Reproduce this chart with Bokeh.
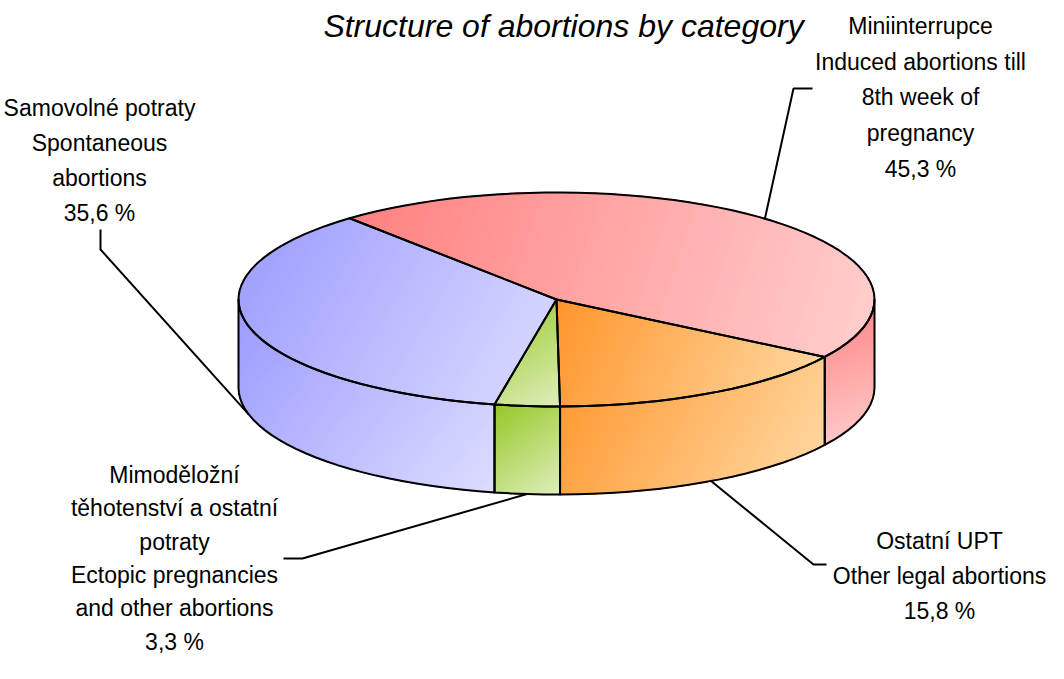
import math
from bokeh.plotting import figure
from bokeh.models import Range1d
from bokeh.core.properties import value
from bokeh.embed import file_html
from bokeh.resources import INLINE

# ---------------- data ----------------
title = "Structure of abortions by category"
categories = ["Miniinterrupce", "Ostatní UPT", "Mimoděložní", "Samovolné potraty"]
shares = [45.3, 15.8, 3.3, 35.6]
label_lines = [
    ["Miniinterrupce", "Induced abortions till", "8th week of", "pregnancy"],
    ["Ostatní UPT", "Other legal abortions"],
    ["Mimoděložní", "těhotenství a ostatní", "potraty", "Ectopic pregnancies", "and other abortions"],
    ["Samovolné potraty", "Spontaneous", "abortions"],
]

# ---------------- style / layout (screen-pixel coordinates) ----------------
dark_cols = [(255, 128, 128), (255, 150, 45), (150, 200, 40), (155, 155, 255)]
light_cols = [(255, 206, 206), (255, 218, 165), (222, 238, 186), (220, 220, 255)]
CX, CY, RX, RY, DEPTH = 564.0, 307.0, 318.0, 107.0, 88.0
START = 130.6
label_anchor = [(928, 25), (947, 540), (182, 474), (107, 107)]
label_sp = [35.8, 35.3, 33.4, 35.2]
leader_elbow = [((801, 96), (820, 96)), ((821, 572), (834, 572)),
                ((310, 566), (291, 566)), ((108, 257), (108, 237))]
FONT = "Liberation Sans"
FS = 23

p = figure(width=1048, height=663, output_backend="svg", toolbar_location=None,
           x_range=Range1d(8, 1056), y_range=Range1d(671, 8), min_border=0)
p.axis.visible = False
p.grid.visible = False
p.outline_line_color = None
p.background_fill_color = "white"
p.border_fill_color = "white"


def ept(a_deg, dy=0.0):
    a = math.radians(a_deg)
    return CX + RX * math.cos(a), CY - RY * math.sin(a) + dy


def arc(a1, a2, dy=0.0, n=120):
    m = max(2, int(abs(a2 - a1) / 360 * n) + 2)
    return [ept(a1 + (a2 - a1) * i / (m - 1), dy) for i in range(m)]


def clip(poly, nx, ny, c):
    out = []
    L = len(poly)
    for i in range(L):
        P = poly[i]
        Q = poly[(i + 1) % L]
        fp = nx * P[0] + ny * P[1] - c
        fq = nx * Q[0] + ny * Q[1] - c
        if fp >= 0:
            out.append(P)
        if (fp >= 0) != (fq >= 0):
            t = fp / (fp - fq)
            out.append((P[0] + (Q[0] - P[0]) * t, P[1] + (Q[1] - P[1]) * t))
    return out


def hexc(c0, c1, t):
    r = [int(round(c0[k] + (c1[k] - c0[k]) * t)) for k in range(3)]
    return "#%02x%02x%02x" % tuple(r)


fx, fy, fc = [], [], []
ox, oy = [], []


def add_face(poly, ci, nb=48):
    xs = [q[0] for q in poly]
    ys = [q[1] for q in poly]
    x0, x1, y0, y1 = min(xs), max(xs), min(ys), max(ys)
    W, H = max(x1 - x0, 1.0), max(y1 - y0, 1.0)
    D = W * W + H * H
    fx.append(xs); fy.append(ys); fc.append(hexc(dark_cols[ci], light_cols[ci], 0))
    for k in range(1, nb):
        a = k / nb
        c = a * D + W * x0 + H * y0
        cp = clip(poly, W, H, c)
        if len(cp) >= 3:
            fx.append([q[0] for q in cp]); fy.append([q[1] for q in cp])
            fc.append(hexc(dark_cols[ci], light_cols[ci], k / (nb - 1)))
    ox.append(xs); oy.append(ys)


# slice angles (clockwise from START)
tot = sum(shares)
bounds = []
a = START
for v in shares:
    b = a - v / tot * 360.0
    bounds.append((a, b))
    a = b

# side faces (front half: angles between -180 and 0)
for i, (a1, a2) in enumerate(bounds):
    for off in (0.0, -360.0, 360.0):
        s1, s2 = a1 + off, a2 + off
        hi, lo = min(s1, 0.0), max(s2, -180.0)
        if hi > lo:
            top = arc(hi, lo)
            bot = arc(lo, hi, DEPTH)
            add_face(top + bot, i)

# top faces
for i, (a1, a2) in enumerate(bounds):
    poly = [(CX, CY)] + arc(a1, a2)
    add_face(poly, i)

p.patches(fx, fy, fill_color=fc, line_color=fc, line_width=0.6)
p.patches(ox, oy, fill_alpha=0, line_color="black", line_width=2, line_join="round")

# leader lines
lx, ly = [], []
for i, (a1, a2) in enumerate(bounds):
    mid = (a1 + a2) / 2
    s = math.sin(math.radians(mid))
    start = ept(mid, DEPTH if s < 0 else 0.0)
    (ex, ey), (tx, ty) = leader_elbow[i]
    lx.append([start[0], ex, tx]); ly.append([start[1], ey, ty])
p.multi_line(lx, ly, line_color="black", line_width=2)

# labels
tx_, ty_, tt_ = [], [], []
for i, lines in enumerate(label_lines):
    pct = ("%.1f %%" % shares[i]).replace(".", ",")
    allines = lines + [pct]
    cx, cy = label_anchor[i]
    for j, t in enumerate(allines):
        tx_.append(cx); ty_.append(cy + j * label_sp[i] + 0.358 * FS); tt_.append(t)
p.text(tx_, ty_, text=tt_, text_font=value(FONT), text_font_size="%dpx" % FS,
       text_align="center", text_baseline="alphabetic", text_color="black")

p.text([571], [33], text=[title], text_font=value(FONT), text_font_size="32px",
       text_font_style="italic", text_align="center", text_baseline="alphabetic",
       text_color="black")

open("out.html", "w").write(file_html(p, INLINE))
